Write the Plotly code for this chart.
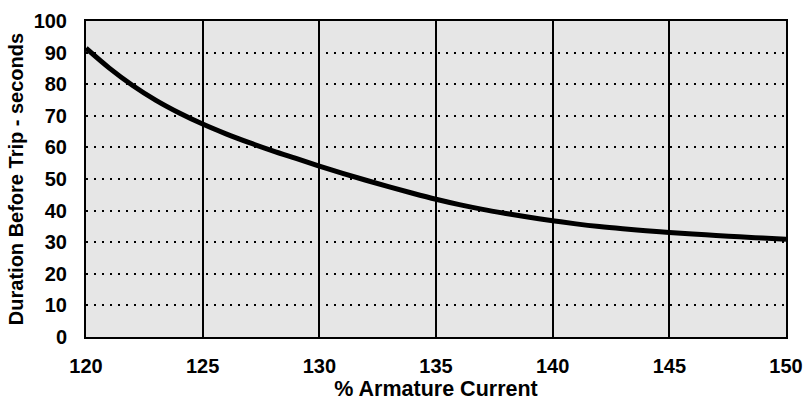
import plotly.graph_objects as go

armature_current = [120, 121, 122, 123, 124, 125, 126, 127, 128, 129, 130,
                    131, 132, 133, 134, 135, 136, 137, 138, 139, 140,
                    141, 142, 143, 144, 145, 146, 147, 148, 149, 150]
duration_s = [91.4, 85.1, 79.6, 74.9, 70.9, 67.4, 64.3, 61.5, 58.9, 56.5, 54.1,
              51.8, 49.6, 47.5, 45.5, 43.6, 41.9, 40.4, 39.1, 37.9, 36.8,
              35.8, 34.95, 34.25, 33.65, 33.1, 32.6, 32.14, 31.71, 31.3, 30.9]

x_ticks = [120, 125, 130, 135, 140, 145, 150]
y_ticks = [0, 10, 20, 30, 40, 50, 60, 70, 80, 90, 100]

FONT = "Liberation Sans"

fig = go.Figure()
fig.add_trace(go.Scatter(
    x=armature_current, y=duration_s, mode="lines",
    line=dict(color="black", width=5, shape="spline"),
    showlegend=False, hoverinfo="skip",
))

fig.update_layout(
    width=805, height=401,
    margin=dict(l=86, r=19, t=21, b=64),
    paper_bgcolor="white",
    plot_bgcolor="#e6e6e6",
    font=dict(family=FONT, color="black"),
)
fig.update_xaxes(
    range=[120, 150], tickvals=x_ticks, ticktext=[str(v) for v in x_ticks],
    showgrid=True, gridcolor="black", gridwidth=2,
    showline=True, linecolor="black", linewidth=2, mirror=True,
    zeroline=False, ticks="", ticklabelstandoff=10, automargin=False,
    tickfont=dict(family=FONT, size=20, color="black", weight="bold"),
    title=dict(text="% Armature Current", standoff=12,
               font=dict(family=FONT, size=21.5, color="black", weight="bold")),
)
fig.update_yaxes(
    range=[0, 100], tickvals=y_ticks, ticktext=[str(v) for v in y_ticks],
    showgrid=True, gridcolor="black", gridwidth=2, griddash="2px,6px",
    showline=True, linecolor="black", linewidth=2, mirror=True,
    zeroline=False, ticks="", ticklabelstandoff=13, automargin=False,
    tickfont=dict(family=FONT, size=20, color="black", weight="bold"),
    title=dict(text="Duration Before Trip - seconds", standoff=5,
               font=dict(family=FONT, size=20, color="black", weight="bold")),
)

fig.write_html("out.html", config={"displayModeBar": False},
               post_script="document.body.style.margin='0';document.body.style.padding='0';")
